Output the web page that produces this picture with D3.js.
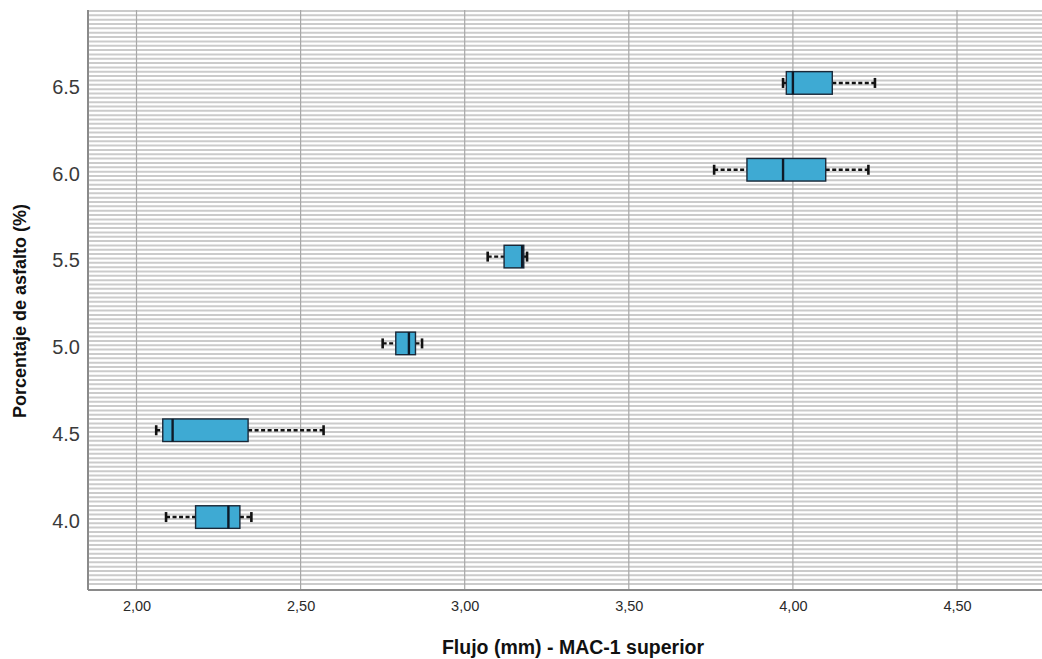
<!DOCTYPE html>
<html>
<head>
<meta charset="utf-8">
<script src="https://cdn.jsdelivr.net/npm/d3@7"></script>
<style>
  html, body { margin: 0; padding: 0; background: #fff; }
  svg { display: block; }
  text { font-family: "Liberation Sans", Arial, sans-serif; }
</style>
</head>
<body>
<svg id="chart" width="1042" height="659"></svg>
<script>
// ---- data ----
const categories   = ["4.0", "4.5", "5.0", "5.5", "6.0", "6.5"];
const whiskerLow   = [2.09, 2.06, 2.75, 3.07, 3.76, 3.97];
const q1Values     = [2.18, 2.08, 2.79, 3.12, 3.86, 3.98];
const medianValues = [2.28, 2.11, 2.83, 3.175, 3.97, 4.00];
const q3Values     = [2.315, 2.34, 2.85, 3.18, 4.10, 4.12];
const whiskerHigh  = [2.35, 2.57, 2.87, 3.19, 4.23, 4.25];
const xTickValues  = [2.0, 2.5, 3.0, 3.5, 4.0, 4.5];
const xTitle = "Flujo (mm) - MAC-1 superior";
const yTitle = "Porcentaje de asfalto (%)";

// ---- layout ----
const W = 1042, H = 659;
const plot = { left: 88, right: 1042, top: 10, bottom: 590 };

const svg = d3.select("#chart");

const x = d3.scaleLinear().domain([1.8522, 4.759]).range([plot.left, plot.right]);
const y = d3.scalePoint().domain(categories).range([plot.bottom, plot.top]).padding(0.84);

const boxes = categories.map((c, i) => ({
  cat: c, lo: whiskerLow[i], q1: q1Values[i], med: medianValues[i], q3: q3Values[i], hi: whiskerHigh[i]
}));

// plot background
svg.append("rect")
  .attr("x", plot.left).attr("y", plot.top)
  .attr("width", plot.right - plot.left).attr("height", plot.bottom - plot.top)
  .attr("fill", "#ffffff");

// horizontal fine stripes (decorative background hatching)
const stripeStep = y.step() / 20;
const nStripes = Math.floor((plot.bottom - plot.top) / stripeStep);
svg.append("g")
  .selectAll("line")
  .data(d3.range(nStripes))
  .join("line")
  .attr("x1", plot.left).attr("x2", plot.right)
  .attr("y1", i => plot.top + 1 + i * stripeStep)
  .attr("y2", i => plot.top + 1 + i * stripeStep)
  .attr("stroke", "#cbcbcb")
  .attr("stroke-width", 2);

// vertical gridlines
svg.append("g")
  .selectAll("line")
  .data(xTickValues)
  .join("line")
  .attr("x1", d => x(d)).attr("x2", d => x(d))
  .attr("y1", plot.top).attr("y2", plot.bottom)
  .attr("stroke", "#a8a8a8")
  .attr("stroke-width", 1.2);

// x axis
const xAxis = d3.axisBottom(x)
  .tickValues(xTickValues)
  .tickSize(0)
  .tickPadding(11)
  .tickFormat(d => d3.format(".2f")(d).replace(".", ","));
const gx = svg.append("g")
  .attr("transform", `translate(0,${plot.bottom})`)
  .call(xAxis);
gx.select(".domain").remove();
gx.selectAll("text")
  .attr("font-size", 14.5)
  .attr("fill", "#2a2a2a")
  .attr("font-family", "'Liberation Sans', Arial, sans-serif");

// y axis
const yAxis = d3.axisLeft(y).tickSize(0).tickPadding(8);
const gy = svg.append("g")
  .attr("transform", `translate(${plot.left},0)`)
  .call(yAxis);
gy.select(".domain").remove();
gy.selectAll("text")
  .attr("font-size", 20)
  .attr("fill", "#3a3a3a")
  .attr("dy", "0.52em")
  .attr("font-family", "'Liberation Sans', Arial, sans-serif");

// frame lines (left and bottom)
svg.append("line")
  .attr("x1", plot.left).attr("x2", plot.left)
  .attr("y1", plot.top).attr("y2", plot.bottom)
  .attr("stroke", "#8a8a8a").attr("stroke-width", 2);
svg.append("line")
  .attr("x1", plot.left).attr("x2", plot.right)
  .attr("y1", plot.bottom).attr("y2", plot.bottom)
  .attr("stroke", "#8a8a8a").attr("stroke-width", 2);

// boxes
const boxH = y.step() * 0.26;
const capH = 10;
const gb = svg.append("g")
  .selectAll("g")
  .data(boxes)
  .join("g")
  .attr("transform", d => `translate(0,${y(d.cat)})`);

// whiskers (dashed)
gb.append("line")
  .attr("x1", d => x(d.lo)).attr("x2", d => x(d.q1))
  .attr("y1", 0).attr("y2", 0)
  .attr("stroke", "#111").attr("stroke-width", 2.4)
  .attr("stroke-dasharray", "4,2.5");
gb.append("line")
  .attr("x1", d => x(d.q3)).attr("x2", d => x(d.hi))
  .attr("y1", 0).attr("y2", 0)
  .attr("stroke", "#111").attr("stroke-width", 2.4)
  .attr("stroke-dasharray", "4,2.5");
// caps
gb.append("line")
  .attr("x1", d => x(d.lo)).attr("x2", d => x(d.lo))
  .attr("y1", -capH / 2).attr("y2", capH / 2)
  .attr("stroke", "#111").attr("stroke-width", 2.6);
gb.append("line")
  .attr("x1", d => x(d.hi)).attr("x2", d => x(d.hi))
  .attr("y1", -capH / 2).attr("y2", capH / 2)
  .attr("stroke", "#111").attr("stroke-width", 2.6);
// box
gb.append("rect")
  .attr("x", d => x(d.q1))
  .attr("width", d => x(d.q3) - x(d.q1))
  .attr("y", -boxH / 2).attr("height", boxH)
  .attr("fill", "#3eaad3")
  .attr("stroke", "#1a2838")
  .attr("stroke-width", 1.4);
// median
gb.append("line")
  .attr("x1", d => x(d.med)).attr("x2", d => x(d.med))
  .attr("y1", -boxH / 2).attr("y2", boxH / 2)
  .attr("stroke", "#0e1a28").attr("stroke-width", 2.4);

// axis titles
svg.append("text")
  .attr("x", 573).attr("y", 654)
  .attr("text-anchor", "middle")
  .attr("font-size", 19.5)
  .attr("font-weight", "bold")
  .attr("fill", "#111")
  .text(xTitle);

svg.append("text")
  .attr("transform", "translate(25.5,311) rotate(-90)")
  .attr("text-anchor", "middle")
  .attr("font-size", 18)
  .attr("font-weight", "bold")
  .attr("fill", "#111")
  .text(yTitle);
</script>
</body>
</html>
